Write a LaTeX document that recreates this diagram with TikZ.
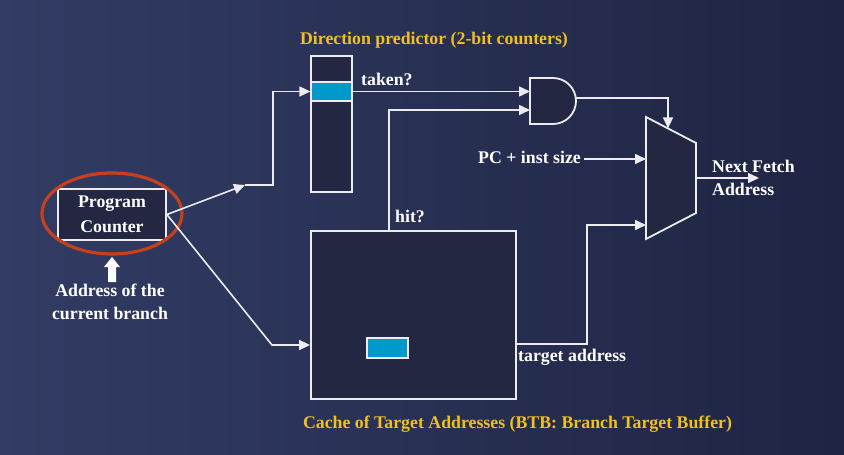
\documentclass[tikz,border=0pt]{standalone}
\usepackage{fontspec}
\setmainfont{Liberation Serif}
\usetikzlibrary{arrows.meta,calc}
\definecolor{bgL}{RGB}{50,60,100}
\definecolor{bgR}{RGB}{30,36,66}
\definecolor{boxfill}{RGB}{35,39,66}
\definecolor{cellblue}{RGB}{0,153,204}
\definecolor{gold}{RGB}{240,192,32}
\definecolor{ovalred}{RGB}{195,65,30}
\definecolor{wire}{RGB}{235,235,240}
\begin{document}
\begin{tikzpicture}[x=1pt,y=-1pt,
  every node/.style={font=\fontsize{17.8}{25}\selectfont\bfseries, text=white, inner sep=0pt},
  blk/.style={draw=wire, line width=1.8pt, fill=boxfill},
  cell/.style={draw=wire, line width=1.2pt, fill=cellblue},
  conn/.style={draw=wire, line width=1.6pt},
  arr/.style={conn, -{Triangle[length=11pt,width=10pt]}},
  ttl/.style={text=gold},
]
\shade[left color=bgL, right color=bgR] (0,0) rectangle (844,455);
\useasboundingbox (0,0) rectangle (844,455);

% predictor and BTB
\node[blk, minimum width=41pt, minimum height=136pt] (pred) at (331.5,124) {};
\node[cell, minimum width=41pt, minimum height=19pt] (row) at (331.5,91.5) {};
\node[blk, minimum width=205pt, minimum height=168pt] (btb) at (413.5,315) {};
\node[cell, minimum width=41pt, minimum height=20pt] (entry) at (387.5,348) {};

% program counter
\node[blk, minimum width=108pt, minimum height=51pt, align=center] (pc) at (112,214.5) {Program\\Counter};
\draw[ovalred, line width=3.2pt] (112,213.5) ellipse [x radius=70pt, y radius=40.5pt];
\fill[white] (108,282) -- (116,282) -- (116,267) -- (120,267) -- (112,257) -- (104,267) -- (108,267) -- cycle;
\node[anchor=base] (addr1) at (110,296) {Address of the};
\node[anchor=base] (addr2) at (110,319) {current branch};

% AND gate
\draw[blk] (530,78) -- (553,78) arc[start angle=90, end angle=-90, radius=23pt] -- (530,124) -- cycle;
\coordinate (andA) at (530,91.5);
\coordinate (andB) at (530,110);
\coordinate (andO) at (575.8,98);

% MUX
\draw[blk] (646,117) -- (696,143) -- (696,213) -- (646,239) -- cycle;
\coordinate (muxT) at (668,128.4);
\coordinate (muxIn1) at (646,159);
\coordinate (muxIn2) at (646,225);
\coordinate (muxO) at (696,178);
\coordinate (nfa) at (759,178);

% connectors
\coordinate (bend1) at (245,185);
\draw[arr] (pc.east) -- (bend1);
\draw[arr] (bend1) -- (273,185) |- (row.west);
\draw[arr] (pc.east) -- (272,345) -- ($(btb.west)+(0,30)$);
\draw[arr] (row.east) -- (andA);
\coordinate (hitb) at (389,231);
\draw[arr] (hitb) |- (andB);
\draw[arr] (andO) -| (muxT);
\node[anchor=base east] (pcinc) at (581,163) {PC + inst size};
\draw[arr] ($(pcinc.base east)+(3,-4)$) -- (muxIn1);
\coordinate (tgt) at ($(btb.east)+(0,29)$);
\draw[arr] (tgt) -- (587,344) |- (muxIn2);
\draw[arr] (muxO) -- (nfa);

% labels
\node[anchor=base west] (taken) at (361,85) {taken?};
\node[anchor=base west] (hit) at (395,222) {hit?};
\node[anchor=base west] (tgtlbl) at (518,361) {target address};
\node[anchor=base west] (nf1) at (712,172) {Next Fetch};
\node[anchor=base west] (nf2) at (712,195) {Address};
\node[ttl, anchor=base] (t1) at (434,45) {Direction predictor (2-bit counters)};
\node[ttl, anchor=base] (t2) at (517.5,428) {Cache of Target Addresses (BTB: Branch Target Buffer)};
\end{tikzpicture}
\end{document}
